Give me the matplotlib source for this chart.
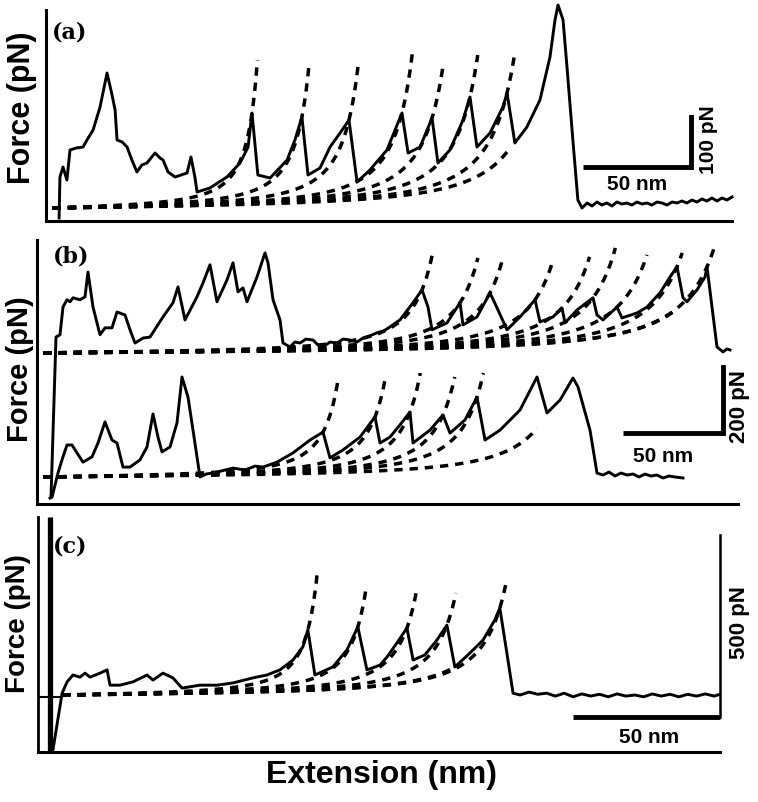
import numpy as np
import matplotlib
matplotlib.use("Agg")
import matplotlib.pyplot as plt

# ---------------- data (extension in nm, force in pN) ----------------
# Panel (a): single trace
a_ext = [6.0, 6.4, 7.8, 9.6, 11.0, 13.8, 17.0, 18.8, 21.6, 24.8, 28.0, 30.3, 31.7, 32.6,
         34.9, 37.2, 39.4, 41.7, 44.0, 46.3, 50.0, 52.3, 53.7, 56.0, 59.2, 64.7, 66.5,
         68.3, 69.3, 75.2, 83.0, 89.0, 92.7, 94.5, 97.2, 102.8, 110.6, 114.2, 117.4,
         120.2, 125.7, 130.3, 134.9, 139.0, 142.7, 148.6, 156.4, 163.3, 166.1, 171.6,
         177.1, 179.8, 185.3, 191.3, 194.5, 197.7, 203.7, 209.6, 211.5, 215.1, 220.6,
         226.6, 231.2, 233.5, 234.9, 237.2, 239.0, 241.7, 244.0, 245.9, 248.2, 250.5,
         252.8, 255.0, 257.3, 259.6, 261.9, 264.2, 266.5, 268.8, 271.1, 273.4, 275.7,
         278.0, 280.3, 282.6, 284.9, 287.2, 289.5, 291.7, 294.0, 296.3, 298.6, 300.9,
         303.2, 305.5, 307.8, 310.1, 312.4, 314.7]
a_force = [-20, 62, 82, 56, 116, 120, 122, 136, 156, 202, 270, 226, 196, 136,
           132, 122, 96, 72, 86, 90, 110, 100, 96, 72, 62, 70, 102,
           62, 32, 40, 62, 90, 122, 190, 66, 60, 96, 136, 182,
           66, 80, 122, 150, 176, 52, 76, 116, 190, 110, 122,
           180, 90, 116, 176, 222, 122, 150, 202, 230, 130, 162,
           216, 302, 376, 406, 376, 282, 136, 16, 0, 10, 4,
           12, 6, 10, 4, 12, 8, 10, 6, 12, 8, 10,
           6, 12, 10, 6, 12, 10, 14, 10, 16, 12, 18,
           14, 20, 14, 20, 16, 22]
# WLC fits (a): point each curve passes through, force at the dashed tip
a_fit_ext = [94.5, 117.4, 139.0, 163.3, 177.1, 194.5, 211.5, 211.5]
a_fit_force = [190, 182, 176, 190, 180, 222, 230, 112]
a_tip_force = [296, 282, 292, 310, 292, 306, 310, 112]

# Panel (b): upper trace (force relative to its own baseline)
b1_ext = [7.0, 9.5, 11.5, 13.0, 15.0, 16.5, 18.0, 21.5, 24.0, 25.5, 28.0, 31.5, 34.0,
          37.5, 40.0, 44.0, 46.5, 49.0, 53.0, 56.5, 63.0, 68.0, 70.5, 74.0, 80.0, 83.0,
          86.5, 90.0, 95.0, 98.0, 100.5, 103.0, 105.0, 110.0, 114.0, 115.5, 118.0,
          121.5, 123.0, 126.5, 129.0, 131.5, 134.5, 138.0, 140.5, 143.0, 146.5, 150.0,
          153.0, 156.5, 160.0, 163.0, 166.5, 170.0, 173.5, 176.5, 181.5, 188.0, 192.5,
          195.5, 197.5, 205.0, 211.5, 213.0, 220.0, 226.5, 230.5, 235.0, 241.5, 249.0,
          251.5, 258.0, 262.5, 264.0, 270.0, 278.0, 280.0, 283.0, 290.0, 292.5, 300.0,
          305.0, 311.5, 316.5, 320.0, 323.0, 325.0, 330.0, 334.0, 335.0, 337.5, 340.0,
          343.0, 345.0, 346.5]
b1_force = [-436, 48, 55, 139, 161, 155, 167, 161, 170, 245, 139, 55, 76,
            76, 124, 115, 70, 30, 45, 48, 109, 152, 200, 100, 170, 212,
            267, 155, 221, 273, 185, 197, 155, 230, 303, 273, 161,
            100, 30, 18, 33, 30, 42, 39, 24, 18, 33, 30,
            42, 39, 33, 45, 52, 61, 67, 79, 100, 152, 191,
            139, 70, 91, 152, 85, 109, 182, 130, 70, 109, 161,
            94, 109, 136, 91, 130, 167, 115, 100, 139, 106, 121,
            139, 182, 230, 261, 167, 155, 191, 230, 261, 139, 18,
            3, 12, 9]
b1_fit_ext = [192.5, 211.5, 226.5, 249.0, 262.5, 278.0, 290.0, 320.0, 335.0, 318.0]
b1_fit_force = [191, 152, 182, 161, 136, 167, 139, 261, 261, 124]
b1_tip_force = [297, 288, 282, 276, 291, 318, 297, 303, 327, 124]

# Panel (b): lower trace
b2_ext = [6.5, 7.5, 10.5, 12.5, 15.0, 17.5, 20.0, 23.0, 27.5, 30.5, 34.0, 37.5, 40.0,
          43.0, 46.5, 51.5, 55.0, 58.0, 60.5, 62.5, 66.5, 70.0, 72.5, 75.5, 78.0, 81.5,
          84.5, 88.0, 92.0, 98.0, 104.0, 109.0, 113.0, 120.0, 128.0, 136.5, 143.0,
          146.5, 153.0, 161.5, 169.0, 171.5, 176.5, 181.5, 186.5, 188.0, 196.5, 203.0,
          206.5, 214.0, 220.0, 224.0, 231.5, 241.5, 250.0, 255.0, 261.5, 268.0, 270.5,
          276.5, 280.0, 283.0, 286.0, 289.0, 292.0, 295.0, 298.0, 301.0, 304.0, 307.0,
          310.0, 313.0, 316.0, 319.0, 323.0]
b2_force = [-64, -61, 12, 52, 97, 97, 73, 45, 61, 103, 167, 112, 103,
            30, 30, 52, 91, 191, 121, 76, 91, 164, 303, 242, 142, 0,
            9, 12, 18, 27, 21, 33, 30, 45, 73, 112, 136,
            58, 82, 121, 182, 103, 121, 158, 197, 103, 142, 188,
            133, 173, 242, 112, 142, 203, 303, 194, 233, 300, 273,
            142, 12, 6, 15, 3, 12, 6, 9, 0, 9, 3,
            6, -3, 3, 0, -3]
b2_fit_ext = [143.0, 169.0, 186.5, 203.0, 220.0, 250.0]
b2_fit_force = [136, 182, 197, 188, 242, 148]
b2_tip_force = [285, 303, 315, 303, 315, 148]

# Panel (c)
c_contact_ext = [4.1, 4.1]
c_contact_force = [489, -157]
c_ext = [4.4, 5.1, 8.2, 9.9, 11.9, 14.3, 16.0, 17.7, 21.1, 23.5, 24.5, 27.9, 32.3,
         37.1, 39.1, 42.5, 45.9, 49.0, 55.1, 60.9, 66.3, 73.1, 77.9, 82.3, 86.7, 90.1,
         91.8, 94.2, 100.3, 105.1, 108.8, 111.9, 116.3, 118.7, 122.1, 125.5, 127.6,
         131.6, 135.7, 139.1, 141.8, 146.9, 151.4, 155.4, 157.1, 159.5, 161.6, 164.0,
         167.0, 170.0, 173.0, 176.0, 179.0, 182.0, 185.0, 188.0, 191.0, 194.0, 197.0,
         200.0, 203.0, 206.0, 209.0, 212.0, 215.0, 218.0, 221.0, 224.0, 227.0, 230.0,
         232.0]
c_force = [-150, -150, 5, 36, 55, 49, 60, 49, 60, 69, 27, 27, 36,
           55, 41, 60, 47, 19, 27, 27, 33, 47, 55, 69, 96, 132,
           179, 55, 77, 124, 187, 69, 82, 104, 143, 184, 96,
           110, 151, 192, 77, 115, 151, 206, 239, 115, 5, 0,
           8, 2, 5, -3, 5, -5, 3, -3, 2, -5, 3,
           -3, 0, -5, 3, -3, 2, -5, 2, -3, 3, -3,
           2]
c_fit_ext = [91.8, 108.8, 125.5, 139.1, 157.1, 141.2]
c_fit_force = [179, 187, 184, 192, 239, 74]
c_tip_force = [330, 302, 288, 280, 302, 74]

# ---------------- helpers ----------------
W, H = 758, 802
fig = plt.figure(figsize=(W / 100, H / 100), dpi=100)
SANS = ["Liberation Sans", "DejaVu Sans"]

KT, PERSIST = 4.1, 0.4


def wlc(r):
    return KT / PERSIST * (0.25 / (1 - r) ** 2 - 0.25 + r)


def solve_r(F):
    lo, hi = 0.0, 0.9999999
    for _ in range(100):
        mid = 0.5 * (lo + hi)
        if wlc(mid) < F:
            lo = mid
        else:
            hi = mid
    return 0.5 * (lo + hi)


def draw_wlc(ax, x0, fx, fF, tF, offset=0.0):
    for xe, Fe, Ft in zip(fx, fF, tF):
        L = (xe - x0) / solve_r(Fe)
        r = np.linspace(0, solve_r(Ft), 600)
        ln, = ax.plot(x0 + r * L, wlc(r) + offset, color="black", lw=2.5,
                      solid_capstyle="butt", zorder=2, clip_on=False)
        ln.set_dashes([2.4, 2.0])


def px_axes(l, r, b, t):
    ax = fig.add_axes([l / W, 1 - b / H, (r - l) / W, (b - t) / H])
    ax.set_facecolor("none")
    for s in ["top", "right"]:
        ax.spines[s].set_visible(False)
    for s in ["left", "bottom"]:
        ax.spines[s].set_linewidth(2.2)
    ax.set_xticks([])
    ax.set_yticks([])
    return ax


def scalebar(ax, x1, x2, y1, y2, lw_h=3.5, lw_v=3.5):
    ax.plot([x1, x2], [y1, y1], color="black", lw=lw_h, solid_capstyle="butt", clip_on=False)
    ax.plot([x2, x2], [y1, y2], color="black", lw=lw_v, solid_capstyle="projecting", clip_on=False)


TRACE_LW = 2.1

# ---------------- panel (a) ----------------
axa = px_axes(46, 732, 221, 10)
axa.set_xlim(0, 314.7)
axa.set_ylim(-26, 396)
draw_wlc(axa, 3.0, a_fit_ext, a_fit_force, a_tip_force)
axa.plot(a_ext, a_force, color="black", lw=TRACE_LW, zorder=3, clip_on=False)
scalebar(axa, 246.3, 295.8, 82, 182)
axa.text(271, 46, "50 nm", ha="center", va="center", fontsize=15, fontweight="bold",
         family=SANS, clip_on=False)
axa.text(303.7, 136, "100 pN", ha="center", va="center", rotation=90, fontsize=15,
         fontweight="bold", family=SANS, clip_on=False)

# ---------------- panel (b) ----------------
UPPER_OFFSET = 376
axb = px_axes(37, 738, 504, 240)
axb.set_xlim(0, 350.5)
axb.set_ylim(-81.8, 718.1)
draw_wlc(axb, 3.0, b1_fit_ext, b1_fit_force, b1_tip_force, offset=UPPER_OFFSET)
draw_wlc(axb, 3.0, b2_fit_ext, b2_fit_force, b2_tip_force)
axb.plot(b1_ext, np.array(b1_force) + UPPER_OFFSET, color="black", lw=TRACE_LW, zorder=3)
axb.plot(b2_ext, b2_force, color="black", lw=TRACE_LW, zorder=3)
scalebar(axb, 293, 343, 133, 333)
axb.text(313, 61, "50 nm", ha="center", va="center", fontsize=15, fontweight="bold",
         family=SANS, clip_on=False)
axb.text(351.5, 212, "200 pN", ha="center", va="center", rotation=90, fontsize=16,
         fontweight="bold", family=SANS, clip_on=False)

# ---------------- panel (c) ----------------
axc = px_axes(38, 720, 752, 517)
axc.spines["left"].set_linewidth(2.0)
axc.set_xlim(0, 232.0)
axc.set_ylim(-156.6, 489)
draw_wlc(axc, 8.2, c_fit_ext, c_fit_force, c_tip_force)
axc.plot([0, 8.2], [-5, -5], color="black", lw=1.5, zorder=3)
axc.plot(c_contact_ext, c_contact_force, color="black", lw=3.8, zorder=3,
         solid_capstyle="butt")
axc.plot(c_ext, c_force, color="black", lw=TRACE_LW, zorder=3)
scalebar(axc, 182, 232, -60, 440, lw_h=3.5, lw_v=1.8)
axc.text(208, -118, "50 nm", ha="center", va="center", fontsize=15, fontweight="bold",
         family=SANS, clip_on=False)
axc.text(238.8, 198, "500 pN", ha="center", va="center", rotation=90, fontsize=16,
         fontweight="bold", family=SANS, clip_on=False)

# ---------------- labels ----------------
def ftext(x, y, s, **kw):
    fig.text(x / W, 1 - y / H, s, ha="center", va="center", **kw)


for (x, y, size) in [(22, 108, 22), (20, 369, 21), (18, 624, 20)]:
    ftext(x, y, "Force (pN)", rotation=90, fontsize=size, fontweight="bold", family=SANS)
for (x, y, s) in [(70, 33, "(a)"), (71, 256, "(b)"), (70, 547, "(c)")]:
    ftext(x, y, s, fontsize=16, fontweight="bold", family=["DejaVu Serif"])
ftext(381, 775, "Extension (nm)", fontsize=23, fontweight="bold", family=SANS)

fig.savefig("out.png", dpi=100)
